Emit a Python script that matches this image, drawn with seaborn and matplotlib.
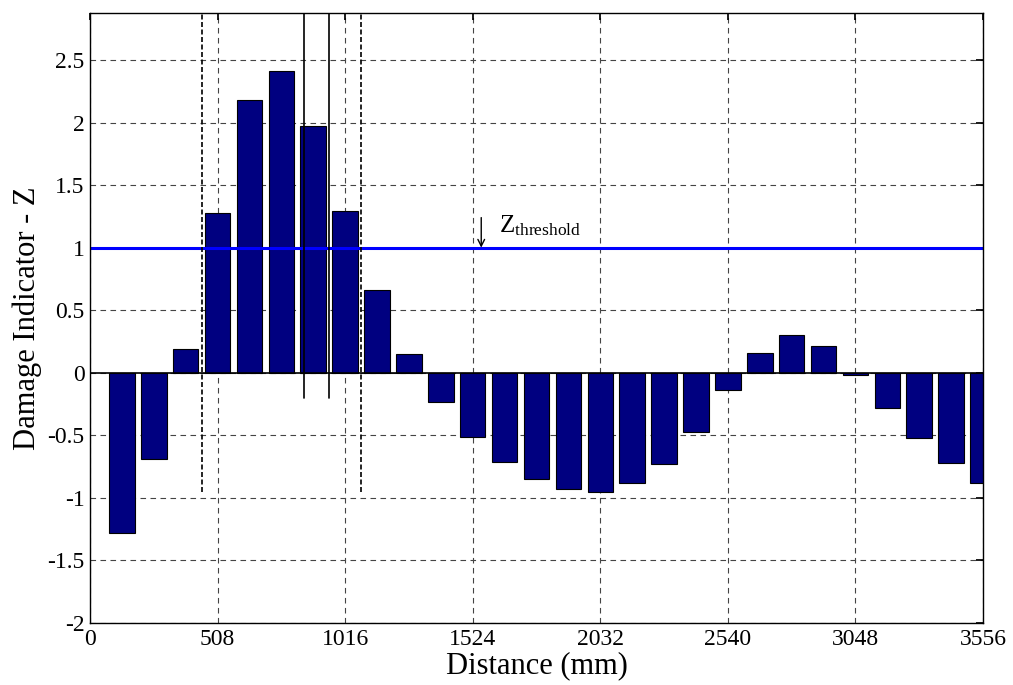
import numpy as np
import pandas as pd
import matplotlib
matplotlib.use("Agg")
import matplotlib.pyplot as plt
import seaborn as sns

# Data
positions = [127 * k for k in range(1, 29)]
damage_z = [-1.28, -0.69, 0.19, 1.28, 2.18, 2.41, 1.97, 1.29, 0.66, 0.15,
            -0.23, -0.51, -0.71, -0.85, -0.93, -0.95, -0.88, -0.73, -0.47, -0.14,
            0.16, 0.30, 0.21, -0.02, -0.28, -0.52, -0.72, -0.88]
x_ticks = [0, 508, 1016, 1524, 2032, 2540, 3048, 3556]
y_ticks = [-2, -1.5, -1, -0.5, 0, 0.5, 1, 1.5, 2, 2.5]
y_tick_labels = ["-2", "-1.5", "-1", "-0.5", "0", "0.5", "1", "1.5", "2", "2.5"]
threshold = 1.0
dashed_marks_x = [444.5, 1079.5]
dashed_marks_ybottom = -0.95
solid_marks_x = [851, 952.5]
solid_marks_ybottom = -0.2

sns.set_theme(style="white")
plt.rcParams['font.family'] = ['Liberation Serif', 'DejaVu Serif']
plt.rcParams['mathtext.fontset'] = 'custom'
plt.rcParams['mathtext.rm'] = 'Liberation Serif'
plt.rcParams['mathtext.it'] = 'Liberation Serif:italic'

fig = plt.figure(figsize=(10.13, 6.85), dpi=100)
ax = fig.add_axes([0.0888, 0.0905, 0.8816, 0.8905])

df = pd.DataFrame({"pos": positions, "z": damage_z})
sns.barplot(data=df, x="pos", y="z", native_scale=True, width=0.8,
            color="#000080", saturation=1, edgecolor="black", linewidth=0.8,
            errorbar=None, ax=ax, zorder=3)

ytop = 2.875
ax.set_xlim(0, 3556)
ax.set_ylim(-2, ytop)

ax.axhline(0, color="black", lw=1.2, zorder=4)
ax.axhline(threshold, color="#0000ff", lw=2.2, zorder=5)

for xv in dashed_marks_x:
    ax.plot([xv, xv], [dashed_marks_ybottom, ytop], color="black", lw=1.2,
            linestyle=(0, (3, 1.5)), zorder=6)
for xv in solid_marks_x:
    ax.plot([xv, xv], [solid_marks_ybottom, ytop], color="black", lw=1.2,
            zorder=6)

ax.annotate("", xy=(1558, threshold), xytext=(1558, 1.24),
            arrowprops=dict(arrowstyle="->", color="black", lw=1.0,
                            shrinkA=0, shrinkB=0), zorder=7)
ax.text(1629, 1.118, r"$\mathrm{Z}_{\mathrm{threshold}}$", fontsize=18, color="black",
        va="baseline", ha="left", zorder=7)

ax.set_xticks(x_ticks)
ax.set_xticklabels([str(t) for t in x_ticks])
ax.set_yticks(y_ticks)
ax.set_yticklabels(y_tick_labels)
ax.tick_params(axis="both", direction="in", labelsize=17, length=5,
               top=True, right=True, color="black", labelcolor="black")
ax.tick_params(axis="x", pad=4)
ax.tick_params(axis="y", pad=4)
ax.grid(True, color="#444444", linestyle=(0, (5, 4)), lw=0.8, zorder=1)
ax.set_axisbelow(True)
for s in ax.spines.values():
    s.set_color("black")
    s.set_linewidth(1.0)
    s.set_zorder(8)

ax.set_xlabel("Distance (mm)", fontsize=22, color="black", labelpad=1)
ax.set_ylabel("Damage Indicator - Z", fontsize=22, color="black", labelpad=4)

fig.savefig("out.png", dpi=100)
